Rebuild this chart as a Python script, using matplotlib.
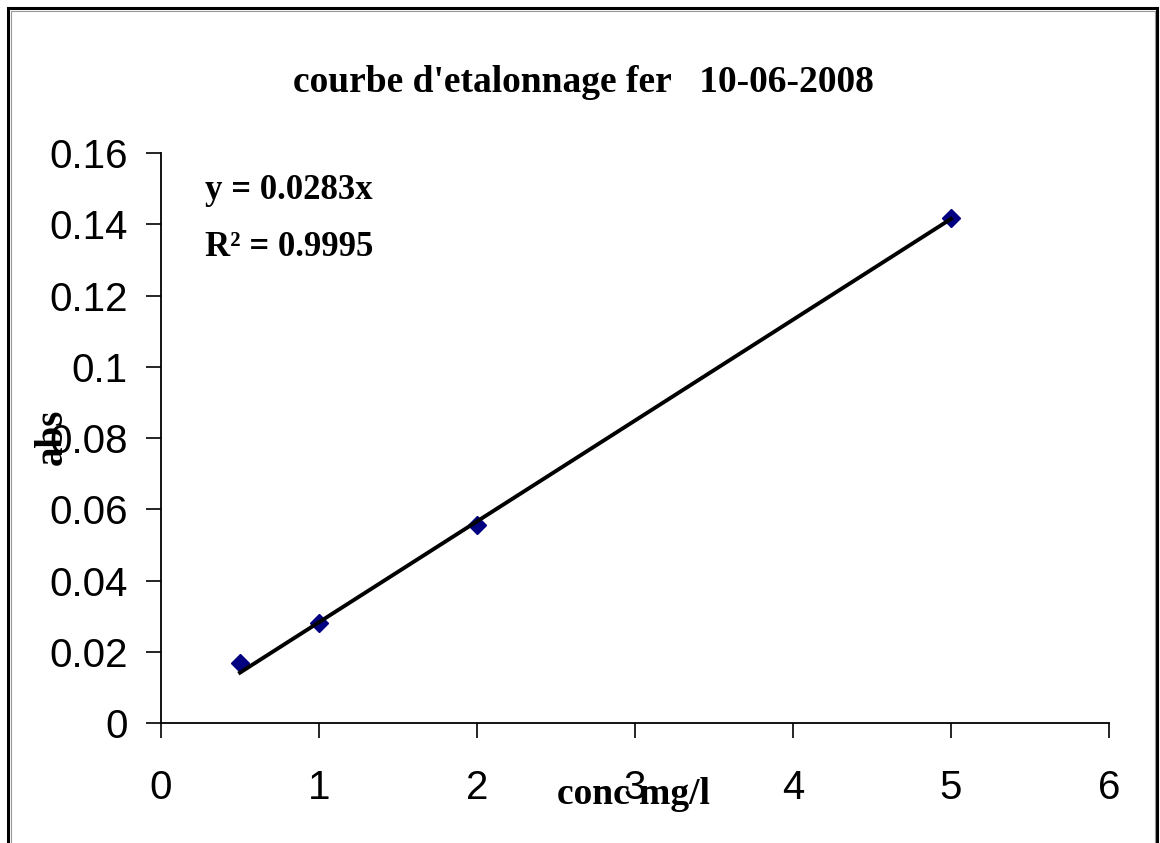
import matplotlib

matplotlib.use("Agg")

import matplotlib.pyplot as plt
import numpy as np
from matplotlib.patches import Rectangle

# calibration points: concentration (mg/l) vs absorbance
conc = [0.5, 1, 2, 5]
absorb = [0.0168, 0.0281, 0.0556, 0.1418]
slope = 0.0283
r2 = 0.9995

x_ticks = [0, 1, 2, 3, 4, 5, 6]
y_ticks = [0, 0.02, 0.04, 0.06, 0.08, 0.1, 0.12, 0.14, 0.16]
y_tick_labels = ["0", "0.02", "0.04", "0.06", "0.08", "0.1", "0.12", "0.14", "0.16"]

serif = ["Liberation Serif", "DejaVu Serif"]
sans = ["Liberation Sans", "DejaVu Sans"]

fig = plt.figure(figsize=(11.6, 8.43), dpi=100)
ax = fig.add_axes([0.1388, 0.1423, 0.8172, 0.6762])

ax.plot(conc, absorb, linestyle="none", marker="D", markersize=9,
        color="#000080", zorder=3)
xs = np.array([min(conc), max(conc)])
ax.plot(xs, slope * xs, color="black", linewidth=2.8, zorder=4)

ax.set_xlim(0, 6)
ax.set_ylim(0, 0.16)
ax.set_xticks(x_ticks)
ax.set_yticks(y_ticks)
ax.set_yticklabels(y_tick_labels)
for lab in ax.get_xticklabels() + ax.get_yticklabels():
    lab.set_family(sans)
    lab.set_fontsize(29)
ax.tick_params(direction="out", length=11, width=1.2)
ax.tick_params(axis="y", pad=13)
ax.tick_params(axis="x", pad=22)
ax.spines["top"].set_visible(False)
ax.spines["right"].set_visible(False)
ax.spines["left"].set_linewidth(1.3)
ax.spines["bottom"].set_linewidth(1.3)

fig.text(0.503, 0.902, "courbe d'etalonnage fer   10-06-2008", ha="center", va="center",
         family=serif, fontweight="bold", fontsize=27)
fig.text(0.177, 0.774, "y = 0.0283x", ha="left", va="center",
         family=serif, fontweight="bold", fontsize=25)
fig.text(0.177, 0.706, "R² = %.4f" % r2, ha="left", va="center",
         family=serif, fontweight="bold", fontsize=25)
fig.text(0.045, 0.482, "abs", rotation=90, ha="center", va="center",
         family=serif, fontweight="bold", fontsize=28)
fig.text(0.546, 0.057, "conc mg/l", ha="center", va="center",
         family=serif, fontweight="bold", fontsize=27)

# outer frame with grey inner shadow
fig.patches.append(Rectangle((8 / 1160, -0.05), 1149 / 1160, 1.05 - 8 / 843,
                             transform=fig.transFigure, fill=False,
                             edgecolor="black", linewidth=2.2))
fig.patches.append(Rectangle((10.5 / 1160, -0.05), 1144 / 1160, 1.05 - 11 / 843,
                             transform=fig.transFigure, fill=False,
                             edgecolor="#999999", linewidth=0.8))

fig.savefig("out.png", dpi=100)
